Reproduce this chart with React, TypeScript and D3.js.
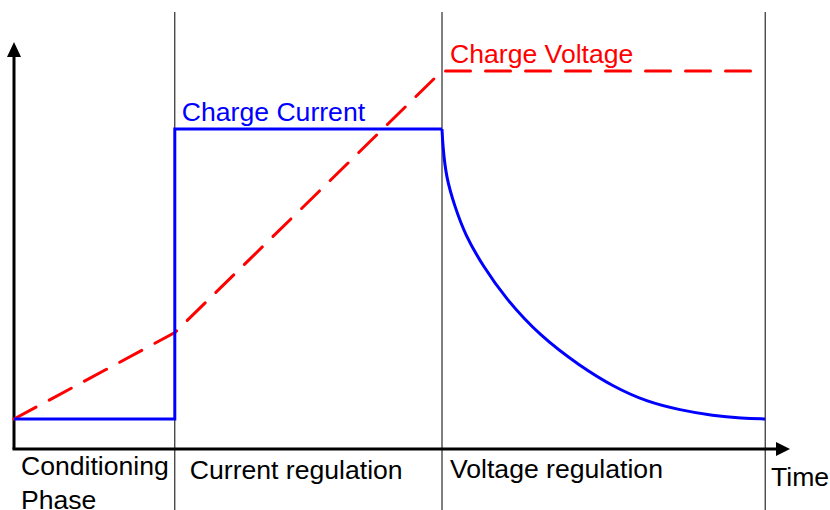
import React from 'react';
import * as d3 from 'd3';

// time (arbitrary units) and level (% of full scale)
const phaseTimes = [20.1, 53.5, 93.9];
const phaseLabels = [['Conditioning', 'Phase'], ['Current regulation'], ['Voltage regulation']];

const stepTimes = [0, 20.1, 20.1, 53.5];
const stepLevels = [7.5, 7.5, 80, 80];

const decayTimes = [53.5, 53.6, 54.0, 55.1, 56.4, 58.66, 61.4, 65.75, 70.75, 74.9, 79.1, 83.25, 87.4, 91.0, 93.9];
const decayLevels = [80, 76, 68, 60.6, 53.5, 45.6, 37.75, 28.25, 20.75, 15.6, 11.8, 9.75, 8.3, 7.7, 7.5];

const voltTimes = [0, 20.1, 53.5, 93.9];
const voltLevels = [7.5, 29.1, 94.5, 94.5];

const width = 830;
const height = 510;
const font = '"Liberation Sans", Arial, sans-serif';

export default function App() {
  const x = d3.scaleLinear().domain([0, 97]).range([14, 790]);
  const y = d3.scaleLinear().domain([0, 101.75]).range([449, 42]);

  const line = d3.line<[number, number]>().x(d => x(d[0])).y(d => y(d[1]));
  const curve = d3.line<[number, number]>().x(d => x(d[0])).y(d => y(d[1])).curve(d3.curveBasis);

  const step = stepTimes.map((t, i) => [t, stepLevels[i]] as [number, number]);
  const decay = decayTimes.map((t, i) => [t, decayLevels[i]] as [number, number]);
  const volt = voltTimes.map((t, i) => [t, voltLevels[i]] as [number, number]);

  const x0 = x(0), y0 = y(0);
  const xEnd = x(97), yEnd = y(101.75);

  return (
    <svg width={width} height={height} style={{ position: 'absolute', left: 0, top: 0, background: '#fff' }}>
      {/* phase separators */}
      {phaseTimes.map((t, i) => (
        <line key={i} x1={x(t)} x2={x(t)} y1={12} y2={height} stroke="#000" strokeWidth={1} />
      ))}

      {/* axes */}
      <line x1={x0} x2={x0} y1={y0} y2={yEnd + 12} stroke="#000" strokeWidth={3} />
      <path d={`M${x0},${yEnd} L${x0 - 7},${yEnd + 15} L${x0 + 7},${yEnd + 15} Z`} fill="#000" />
      <line x1={x0 - 1.5} x2={xEnd - 12} y1={y0} y2={y0} stroke="#000" strokeWidth={3} />
      <path d={`M${xEnd},${y0} L${xEnd - 14},${y0 - 7} L${xEnd - 14},${y0 + 7} Z`} fill="#000" />

      {/* charge voltage */}
      <path d={line(volt) ?? ''} fill="none" stroke="#ff0000" strokeWidth={3}
        strokeDasharray="25 15" strokeLinecap="round" />

      {/* charge current */}
      <path d={line(step) ?? ''} fill="none" stroke="#0000ff" strokeWidth={3} />
      <path d={curve(decay) ?? ''} fill="none" stroke="#0000ff" strokeWidth={3} />

      <g fontFamily={font} fontSize={26.6}>
        <text x={x(phaseTimes[0]) + 7} y={121} fill="#0000ff">Charge Current</text>
        <text x={x(phaseTimes[1]) + 8} y={63} fill="#ff0000">Charge Voltage</text>

        <text x={x0 + 7} y={475} fill="#000">
          {phaseLabels[0].map((s, i) => (
            <tspan key={i} x={x0 + 7} dy={i === 0 ? 0 : 34}>{s}</tspan>
          ))}
        </text>
        <text x={x(phaseTimes[0]) + 15} y={479} fill="#000">{phaseLabels[1][0]}</text>
        <text x={x(phaseTimes[1]) + 8} y={478} fill="#000">{phaseLabels[2][0]}</text>
        <text x={771} y={486} fill="#000">Time</text>
      </g>
    </svg>
  );
}
